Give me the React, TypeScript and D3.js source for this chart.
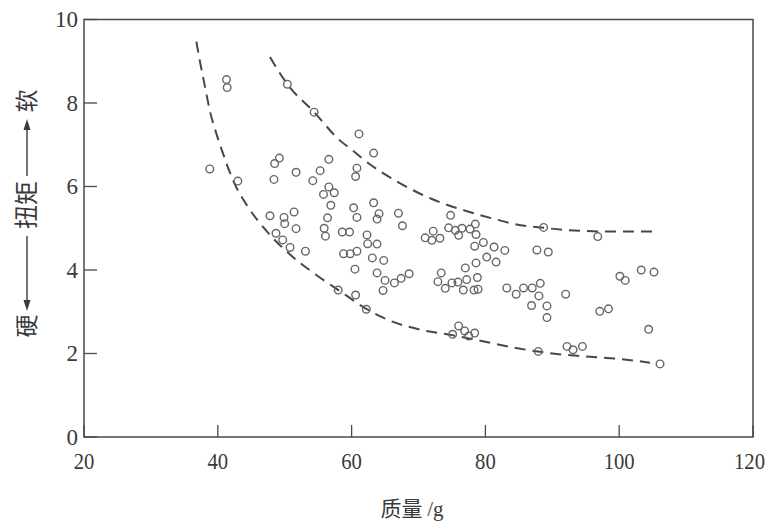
import React from "react";
import * as d3 from "d3";

// Scatter data: mass (g) vs torque
const massG = [
  41.3, 41.4, 50.4, 54.4, 38.8, 43.0, 49.2, 48.5, 48.4, 51.7,
  56.6, 55.3, 54.2, 56.6, 55.8, 57.4, 56.9, 47.8, 49.9, 51.4,
  56.4, 61.1, 63.3, 60.8, 60.6, 63.3, 60.3, 60.8, 64.1, 63.8,
  67.0, 67.6, 74.8, 50.0, 51.7, 48.7, 49.7, 50.8, 53.1, 55.9,
  56.1, 58.6, 59.7, 62.3, 62.4, 63.8, 58.8, 59.8, 60.8, 63.1,
  64.8, 60.5, 63.8, 65.0, 66.4, 67.4, 68.6, 64.7, 58.0, 60.6,
  62.2, 71.0, 72.2, 72.0, 73.2, 74.5, 75.5, 76.5, 76.0, 77.7,
  78.5, 78.6, 78.4, 79.7, 81.3, 82.9, 77.0, 78.6, 80.2, 81.6,
  73.4, 72.9, 74.0, 75.0, 75.9, 77.2, 76.7, 78.8, 78.3, 78.9,
  75.1, 76.0, 76.9, 77.5, 78.4, 83.2, 84.6, 85.7, 87.0, 88.2,
  88.0, 86.9, 89.2, 89.2, 92.0, 88.7, 96.8, 87.7, 89.4, 100.1,
  100.9, 103.3, 105.2, 97.1, 98.4, 104.4, 87.9, 92.2, 93.1, 94.5,
  106.1,
];
const torque = [
  8.56, 8.37, 8.45, 7.78, 6.42, 6.13, 6.68, 6.55, 6.17, 6.34,
  6.65, 6.38, 6.14, 5.99, 5.81, 5.85, 5.55, 5.30, 5.26, 5.39,
  5.25, 7.26, 6.80, 6.44, 6.24, 5.61, 5.49, 5.26, 5.35, 5.22,
  5.36, 5.06, 5.31, 5.11, 4.99, 4.88, 4.72, 4.54, 4.45, 5.00,
  4.81, 4.91, 4.91, 4.84, 4.63, 4.62, 4.39, 4.39, 4.45, 4.29,
  4.23, 4.02, 3.93, 3.75, 3.69, 3.80, 3.91, 3.51, 3.52, 3.40,
  3.06, 4.77, 4.93, 4.71, 4.76, 5.01, 4.95, 5.00, 4.83, 4.98,
  5.10, 4.85, 4.57, 4.66, 4.55, 4.47, 4.05, 4.17, 4.31, 4.19,
  3.93, 3.72, 3.56, 3.69, 3.71, 3.77, 3.52, 3.82, 3.52, 3.54,
  2.46, 2.66, 2.54, 2.42, 2.49, 3.57, 3.42, 3.57, 3.57, 3.68,
  3.38, 3.15, 3.14, 2.86, 3.42, 5.02, 4.80, 4.48, 4.43, 3.85,
  3.75, 4.00, 3.95, 3.01, 3.07, 2.58, 2.05, 2.17, 2.09, 2.17,
  1.75,
];

// Dashed boundary curves
const lowerBoundX = [36.8, 37.3, 38.1, 38.8, 39.8, 40.8, 42.3, 44.6, 47.3, 50.8, 54.3, 58.3, 62.3, 66, 70, 75, 80, 85, 90, 95, 100, 104.6];
const lowerBoundY = [9.47, 9.02, 8.38, 7.82, 7.26, 6.78, 6.14, 5.49, 4.93, 4.37, 3.93, 3.49, 3.06, 2.77, 2.58, 2.44, 2.28, 2.12, 2.0, 1.93, 1.87, 1.78];
const upperBoundX = [47.8, 49, 50.4, 54.4, 58, 60.5, 62, 67, 72, 77, 81.4, 84.4, 88.7, 92, 99, 105.2];
const upperBoundY = [9.1, 8.78, 8.45, 7.78, 7.14, 6.82, 6.62, 6.10, 5.70, 5.42, 5.22, 5.10, 5.01, 4.96, 4.92, 4.92];

const xTicks = [20, 40, 60, 80, 100, 120];
const yTicks = [0, 2, 4, 6, 8, 10];

const W = 766;
const H = 525;
const left = 84, right = 753, top = 19.5, bottom = 437;

export default function App() {
  const x = d3.scaleLinear().domain([20, 120]).range([left, right]);
  const y = d3.scaleLinear().domain([0, 10]).range([bottom, top]);

  const line = d3
    .line<[number, number]>()
    .x((d) => x(d[0]))
    .y((d) => y(d[1]))
    .curve(d3.curveMonotoneX);

  const lowerPath = line(lowerBoundX.map((v, i) => [v, lowerBoundY[i]]) as [number, number][]) || "";
  const upperPath = line(upperBoundX.map((v, i) => [v, upperBoundY[i]]) as [number, number][]) || "";

  const serif = "'Liberation Serif', 'DejaVu Serif', serif";
  const cjk = "'Noto Sans CJK SC', 'Noto Sans CJK JP', sans-serif";
  const ink = "#3a3a3a";

  return (
    <svg
      width={W}
      height={H}
      viewBox={`0 0 ${W} ${H}`}
      style={{ position: "absolute", left: 0, top: 0, background: "#fff" }}
    >
      <rect x={0} y={0} width={W} height={H} fill="#fff" />
      {/* frame */}
      <rect
        x={left}
        y={top}
        width={right - left}
        height={bottom - top}
        fill="none"
        stroke="#4a4a4a"
        strokeWidth={1.5}
      />
      {/* y ticks */}
      {yTicks.map((t) => (
        <g key={"y" + t}>
          <line x1={left} x2={left + 13} y1={y(t)} y2={y(t)} stroke="#4a4a4a" strokeWidth={1.3} />
          <text
            x={left - 6}
            y={y(t)}
            dy="0.34em"
            textAnchor="end"
            fontFamily={serif}
            fontSize={23}
            fill={ink}
          >
            {t}
          </text>
        </g>
      ))}
      {/* x ticks */}
      {xTicks.map((t, i) => (
        <g key={"x" + t}>
          <line x1={x(t)} x2={x(t)} y1={bottom} y2={bottom - 12} stroke="#4a4a4a" strokeWidth={1.3} />
          <text
            transform={`translate(${i === xTicks.length - 1 ? 765 : x(t)},469) scale(0.9,1)`}
            textAnchor={i === xTicks.length - 1 ? "end" : "middle"}
            fontFamily={serif}
            fontSize={23}
            fill={ink}
          >
            {t}
          </text>
        </g>
      ))}
      {/* boundary curves */}
      <path d={lowerPath} fill="none" stroke="#474747" strokeWidth={2} strokeDasharray="11 7" />
      <path d={upperPath} fill="none" stroke="#474747" strokeWidth={2} strokeDasharray="11 7" />
      {/* points */}
      {massG.map((m, i) => (
        <circle
          key={i}
          cx={x(m)}
          cy={y(torque[i])}
          r={3.8}
          fill="none"
          stroke="#666"
          strokeWidth={1.4}
        />
      ))}
      {/* x title */}
      <text x={412} y={516} textAnchor="middle" fontFamily={cjk} fontSize={21} fill={ink}>
        质量 <tspan fontFamily={serif}>/g</tspan>
      </text>
      {/* y title */}
      <g transform="translate(27,216) rotate(-90)">
        <text x={-110} y={0} dy="0.35em" textAnchor="middle" fontFamily={cjk} fontSize={23} fill={ink}>
          硬
        </text>
        <line x1={-20} x2={-86} y1={0} y2={0} stroke={ink} strokeWidth={1.4} />
        <polygon points="-95,0 -84,-3.5 -84,3.5" fill={ink} />
        <text x={11} y={0} dy="0.35em" textAnchor="middle" fontFamily={cjk} fontSize={24} fill={ink}>
          扭矩
        </text>
        <line x1={40} x2={88} y1={0} y2={0} stroke={ink} strokeWidth={1.4} />
        <polygon points="97,0 86,-3.5 86,3.5" fill={ink} />
        <text x={115} y={0} dy="0.35em" textAnchor="middle" fontFamily={cjk} fontSize={23} fill={ink}>
          软
        </text>
      </g>
    </svg>
  );
}
